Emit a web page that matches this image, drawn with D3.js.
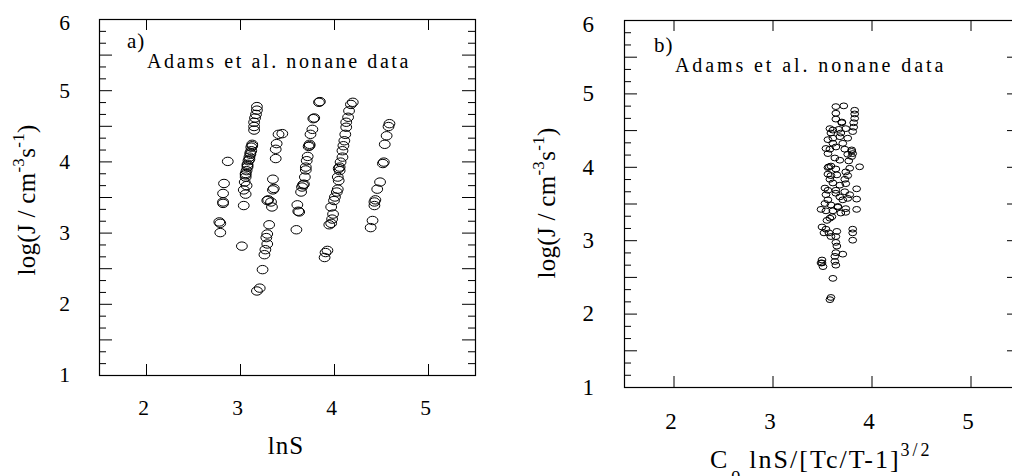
<!DOCTYPE html>
<html>
<head>
<meta charset="utf-8">
<script src="https://cdn.jsdelivr.net/npm/d3@7"></script>
<style>
body { margin: 0; background: #fff; }
svg, svg text { font-family: "Liberation Serif", "DejaVu Serif", serif; fill: #000; }
</style>
</head>
<body>
<script>
const xTicks = [2, 3, 4, 5]
const yTicks = [1, 2, 3, 4, 5, 6]
const dataLabel = "Adams et al. nonane data"
const serif = "'Liberation Serif', 'DejaVu Serif', serif"

// panel a: [lnS, log J]
const pointsA = [
  [2.87, 4.00], [2.83, 3.69], [2.82, 3.55], [2.82, 3.43], [2.82, 3.41], [2.78, 3.15], [2.79, 3.13], [2.79, 3.00],
  [3.18, 4.77], [3.18, 4.72], [3.17, 4.66], [3.16, 4.61], [3.15, 4.55], [3.15, 4.49], [3.15, 4.44],
  [3.13, 4.24], [3.13, 4.22], [3.12, 4.20], [3.12, 4.15], [3.11, 4.12], [3.11, 4.10], [3.10, 4.06],
  [3.10, 4.03], [3.09, 4.01], [3.08, 3.96], [3.08, 3.94], [3.08, 3.92], [3.07, 3.87], [3.06, 3.83],
  [3.06, 3.81], [3.06, 3.78], [3.05, 3.71], [3.07, 3.66], [3.04, 3.60], [3.06, 3.54], [3.04, 3.38],
  [3.02, 2.81],
  [3.45, 4.39], [3.41, 4.38], [3.39, 4.25], [3.38, 4.17], [3.38, 4.04], [3.35, 3.75], [3.36, 3.62],
  [3.35, 3.60], [3.33, 3.43], [3.29, 3.45], [3.30, 3.46], [3.34, 3.36], [3.31, 3.11], [3.29, 2.98],
  [3.28, 2.93], [3.29, 2.84], [3.27, 2.76], [3.26, 2.69], [3.24, 2.48], [3.21, 2.22], [3.18, 2.18],
  [3.60, 3.04], [3.61, 3.39], [3.62, 3.30], [3.63, 3.29], [3.65, 3.57], [3.66, 3.64], [3.68, 3.68],
  [3.67, 3.67], [3.69, 3.78], [3.70, 3.92], [3.70, 3.88], [3.71, 4.01], [3.72, 4.07], [3.73, 4.21],
  [3.74, 4.22], [3.74, 4.24], [3.75, 4.38], [3.77, 4.45], [3.78, 4.60], [3.79, 4.61], [3.84, 4.83],
  [3.85, 4.84],
  [3.90, 2.65], [3.91, 2.72], [3.93, 2.75], [3.95, 3.11], [3.97, 3.13], [3.98, 3.19], [3.99, 3.26],
  [3.97, 3.36], [4.00, 3.45], [4.01, 3.50], [4.03, 3.57], [4.04, 3.61], [4.05, 3.73], [4.04, 3.78],
  [4.06, 3.87], [4.05, 3.90], [4.06, 3.92], [4.07, 3.99], [4.09, 4.06], [4.09, 4.15], [4.10, 4.22],
  [4.11, 4.29], [4.12, 4.38], [4.13, 4.48], [4.13, 4.55], [4.15, 4.62], [4.16, 4.71], [4.18, 4.80],
  [4.20, 4.83],
  [4.39, 3.07], [4.41, 3.17], [4.43, 3.38], [4.43, 3.43], [4.44, 3.46], [4.46, 3.61], [4.49, 3.71],
  [4.52, 3.97], [4.53, 3.99], [4.54, 4.24], [4.56, 4.36], [4.58, 4.49], [4.59, 4.53]
]

// panel b: [Co lnS/[Tc/T-1]^1.5, log J]
const pointsB = [
  [3.64, 4.82], [3.72, 4.83], [3.83, 4.77], [3.83, 4.72], [3.64, 4.73],
  [3.64, 4.65], [3.70, 4.61], [3.70, 4.60], [3.83, 4.66], [3.82, 4.60],
  [3.58, 4.52], [3.61, 4.50], [3.67, 4.51], [3.74, 4.52], [3.82, 4.54], [3.81, 4.48], [3.59, 4.46], [3.69, 4.46],
  [3.56, 4.37], [3.61, 4.39], [3.68, 4.41], [3.76, 4.39], [3.61, 4.32], [3.71, 4.32],
  [3.54, 4.25], [3.58, 4.24], [3.64, 4.27], [3.73, 4.24], [3.80, 4.23], [3.80, 4.21], [3.81, 4.18], [3.56, 4.18], [3.76, 4.17],
  [3.63, 4.12], [3.80, 4.14], [3.68, 4.09], [3.77, 4.08],
  [3.56, 3.99], [3.57, 4.00], [3.59, 4.01], [3.64, 3.97], [3.78, 3.98], [3.88, 4.00], [3.74, 3.93],
  [3.56, 3.90], [3.59, 3.88], [3.65, 3.89], [3.76, 3.88], [3.73, 3.83], [3.58, 3.83],
  [3.53, 3.71], [3.61, 3.78], [3.68, 3.75], [3.74, 3.77], [3.85, 3.70], [3.56, 3.68], [3.64, 3.68], [3.73, 3.66],
  [3.54, 3.62], [3.64, 3.64], [3.68, 3.59], [3.78, 3.62], [3.85, 3.56], [3.56, 3.55], [3.71, 3.55], [3.76, 3.57],
  [3.53, 3.50], [3.59, 3.48], [3.66, 3.46], [3.66, 3.45], [3.74, 3.43], [3.85, 3.42], [3.49, 3.42], [3.54, 3.40],
  [3.61, 3.40], [3.69, 3.37], [3.74, 3.38],
  [3.58, 3.30], [3.55, 3.27], [3.60, 3.32],
  [3.50, 3.18], [3.54, 3.15], [3.52, 3.10], [3.57, 3.10], [3.65, 3.12], [3.81, 3.15], [3.81, 3.10], [3.59, 3.05], [3.64, 3.05],
  [3.81, 3.00], [3.64, 2.97], [3.65, 2.92],
  [3.64, 2.83], [3.71, 2.81], [3.63, 2.78],
  [3.50, 2.73], [3.49, 2.69], [3.50, 2.69], [3.63, 2.71], [3.64, 2.66], [3.51, 2.64],
  [3.61, 2.48],
  [3.59, 2.22], [3.58, 2.19]
]

const svg = d3.select("body").append("svg")
  .attr("width", 1012)
  .attr("height", 476)
  .style("font-family", serif)

function drawPanel(p) {
  const x = d3.scaleLinear().domain([1.5, 5.5]).range([p.left, p.right])
  const y = d3.scaleLinear().domain([1, 6]).range([p.bottom, p.top])
  const g = svg.append("g")

  const yMinor = d3.range(1, 6.0001, 1 / 6).filter(v => Math.abs(v * 2 - Math.round(v * 2)) > 1e-6)
  const yMajor = d3.range(1, 6.0001, 0.5)

  const tickAxis = (axis, pos, values, size) => {
    g.append("g")
      .attr("transform", pos)
      .call(axis.tickValues(values).tickSizeInner(size).tickSizeOuter(0).tickFormat(""))
      .call(a => a.select(".domain").remove())
      .call(a => a.selectAll("line").attr("stroke", "#000"))
  }
  tickAxis(d3.axisLeft(y), `translate(${p.left},0)`, yMajor, -13)
  tickAxis(d3.axisLeft(y), `translate(${p.left},0)`, yMinor, -7)
  tickAxis(d3.axisRight(y), `translate(${p.right},0)`, yMajor, -13)
  tickAxis(d3.axisRight(y), `translate(${p.right},0)`, yMinor, -7)
  tickAxis(d3.axisBottom(x), `translate(0,${p.bottom})`, xTicks, -11)
  tickAxis(d3.axisTop(x), `translate(0,${p.top})`, xTicks, -11)

  // tick labels
  g.append("g")
    .attr("transform", `translate(${p.left},0)`)
    .call(d3.axisLeft(y).tickValues(yTicks).tickSize(0).tickPadding(p.yPad).tickFormat(d3.format("d")))
    .attr("font-family", serif)
    .attr("font-size", p.tickFont)
    .call(a => a.select(".domain").remove())
    .selectAll("text")
    .attr("y", d => d === 6 ? 4 : 0)

  g.append("g")
    .attr("transform", `translate(0,${p.bottom})`)
    .call(d3.axisBottom(x).tickValues(xTicks).tickSize(0).tickPadding(p.xPad).tickFormat(d3.format("d")))
    .attr("font-family", serif)
    .attr("font-size", p.tickFont)
    .call(a => a.select(".domain").remove())
    .selectAll("text")
    .attr("x", -3)

  g.append("rect")
    .attr("x", p.left + 0.5).attr("y", p.top + 0.5)
    .attr("width", p.right - p.left).attr("height", p.bottom - p.top)
    .attr("fill", "none").attr("stroke", "#000").attr("stroke-width", 1.2)

  g.append("g").selectAll("ellipse")
    .data(p.points)
    .enter()
    .append("ellipse")
    .attr("cx", d => x(d[0]))
    .attr("cy", d => y(d[1]))
    .attr("rx", p.rx)
    .attr("ry", p.ry)
    .attr("fill", "none")
    .attr("stroke", "#000")
    .attr("stroke-width", 1)

  g.append("text")
    .attr("x", p.tagX).attr("y", p.tagY)
    .style("font-size", "21px")
    .style("letter-spacing", "1px")
    .text(p.tag)

  g.append("text")
    .attr("x", p.noteX).attr("y", p.noteY)
    .style("font-size", "20px")
    .style("letter-spacing", p.noteSpacing)
    .text(dataLabel)

  const yt = g.append("text")
    .attr("transform", `translate(${p.yTitleX},${p.yTitleY}) rotate(-90)`)
    .attr("text-anchor", "middle")
    .style("font-size", "25px")
    .style("letter-spacing", "0.3px")
  yt.append("tspan").text("log(J / cm")
  yt.append("tspan").attr("dy", -11).style("font-size", "17px").text("-3")
  yt.append("tspan").attr("dy", 11).text("s")
  yt.append("tspan").attr("dy", -11).style("font-size", "17px").text("-1")
  yt.append("tspan").attr("dy", 11).text(")")

  p.xTitle(g)
}

drawPanel({
  left: 99, right: 475, top: 19, bottom: 375,
  points: pointsA, rx: 5.4, ry: 4.2,
  tickFont: 21.5, yPad: 29, xPad: 25,
  tag: "a)", tagX: 127, tagY: 48,
  noteX: 147, noteY: 68, noteSpacing: "2.6px",
  yTitleX: 35, yTitleY: 200,
  xTitle: g => g.append("text")
    .attr("x", 286).attr("y", 454)
    .attr("text-anchor", "middle")
    .style("font-size", "25px")
    .style("letter-spacing", "1px")
    .text("lnS")
})

drawPanel({
  left: 624, right: 1020, top: 20, bottom: 387,
  points: pointsB, rx: 3.9, ry: 2.9,
  tickFont: 23, yPad: 30, xPad: 26,
  tag: "b)", tagX: 654, tagY: 52,
  noteX: 675, noteY: 72, noteSpacing: "2.9px",
  yTitleX: 555, yTitleY: 203,
  xTitle: g => {
    const t = g.append("text")
      .attr("x", 710).attr("y", 468)
      .style("font-size", "26px")
      .style("letter-spacing", "2px")
    t.append("tspan").text("C")
    t.append("tspan").attr("dx", 2).attr("dy", 12).style("font-size", "18px").text("o")
    t.append("tspan").attr("dx", 7).attr("dy", -12).text("lnS/[Tc/T-1]")
    t.append("tspan").attr("dy", -12).style("font-size", "18px").style("letter-spacing", "3px").text("3/2")
  }
})
</script>
</body>
</html>
